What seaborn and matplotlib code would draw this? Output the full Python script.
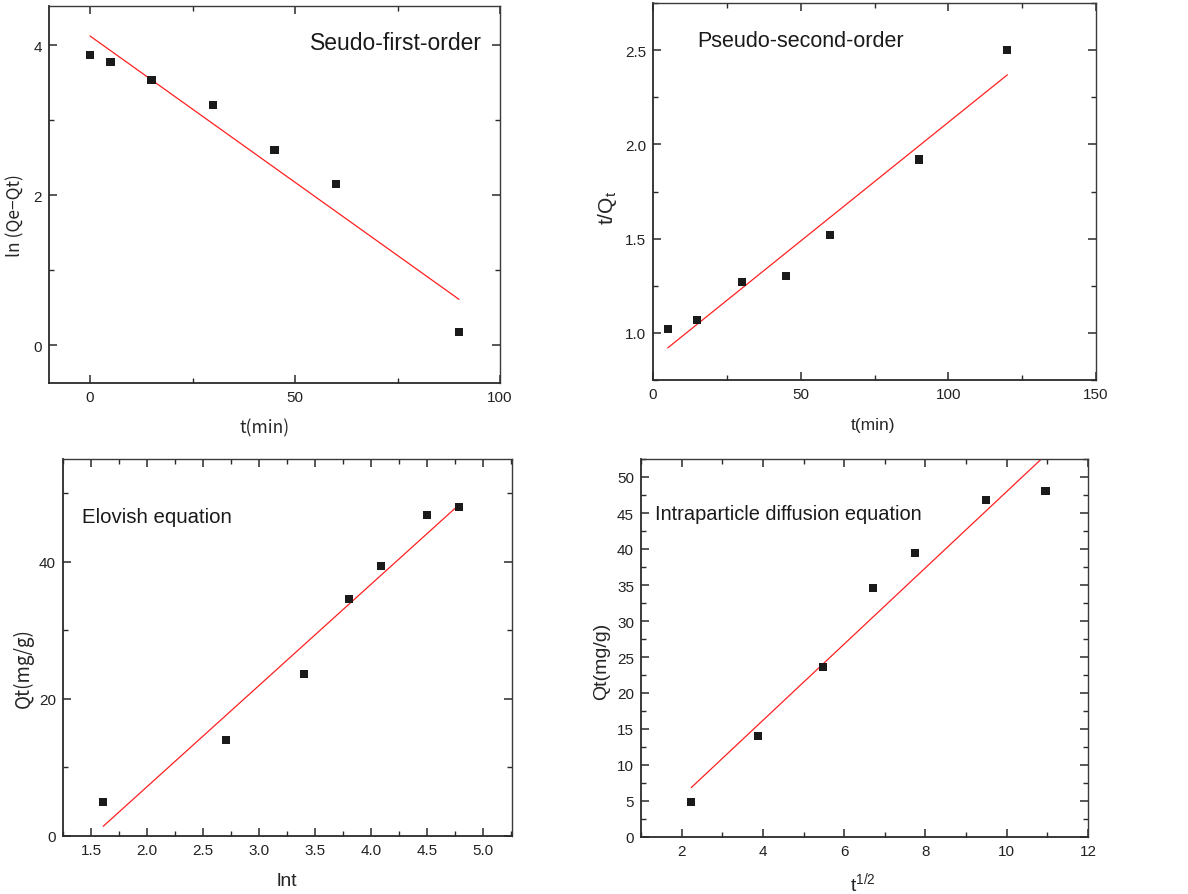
import numpy as np
import pandas as pd
import matplotlib
matplotlib.use("Agg")
import matplotlib.pyplot as plt
from matplotlib.ticker import MultipleLocator, FormatStrFormatter
import seaborn as sns

sns.set_style("ticks")
plt.rcParams['font.family'] = ['Liberation Sans', 'DejaVu Sans']

# ---- data ----
t_first = [0, 5, 15, 30, 45, 60, 90]
ln_qe_qt = [3.87, 3.77, 3.53, 3.20, 2.60, 2.15, 0.18]

t_second = [5, 15, 30, 45, 60, 90, 120]
t_over_qt = [1.02, 1.07, 1.27, 1.30, 1.52, 1.92, 2.50]

ln_t = [1.609, 2.708, 3.401, 3.807, 4.094, 4.500, 4.787]
qt_elovich = [4.9, 14.0, 23.6, 34.6, 39.4, 46.8, 48.0]

sqrt_t = [2.236, 3.873, 5.477, 6.708, 7.746, 9.487, 10.954]
qt_intra = [4.9, 14.0, 23.6, 34.6, 39.4, 46.8, 48.0]

W, H = 1188, 895
fig = plt.figure(figsize=(W / 100, H / 100), dpi=100)


def make_ax(l, r, t, b):
    return fig.add_axes([l / W, 1 - b / H, (r - l) / W, (b - t) / H])


ax1 = make_ax(49, 500, 7, 384)
ax2 = make_ax(653, 1096, 4, 381)
ax3 = make_ax(63, 512, 460, 837)
ax4 = make_ax(641, 1088, 460, 838)

scatter_kws = dict(s=34, color='#1a1a1a', edgecolors='none', alpha=1, zorder=3)
line_kws = dict(color='#ff2020', lw=0.9, zorder=2)

panels = [
    (ax1, t_first, ln_qe_qt),
    (ax2, t_second, t_over_qt),
    (ax3, ln_t, qt_elovich),
    (ax4, sqrt_t, qt_intra),
]
for ax, xs, ys in panels:
    df = pd.DataFrame({'x': xs, 'y': ys})
    sns.regplot(data=df, x='x', y='y', ax=ax, ci=None, marker='s',
                truncate=True, scatter_kws=scatter_kws, line_kws=line_kws)
    ax.set_xlabel('')
    ax.set_ylabel('')
    for side in ['left', 'bottom']:
        ax.spines[side].set_linewidth(1.3)
        ax.spines[side].set_color('#2a2a2a')
    for side in ['top', 'right']:
        ax.spines[side].set_visible(True)
        ax.spines[side].set_linewidth(1.0)
        ax.spines[side].set_color('#3a3a3a')
    ax.tick_params(which='major', direction='in', length=6, width=1.1,
                   top=True, right=True, labelsize=11, colors='#2a2a2a',
                   labelcolor='#222222', pad=5)
    ax.tick_params(which='minor', direction='in', length=3.5, width=1.0,
                   top=True, right=True, colors='#2a2a2a')

cjk = ['Noto Sans CJK SC', 'DejaVu Sans']

# Panel 1
ax1.set_xlim(-10, 100)
ax1.set_ylim(-0.5, 4.52)
ax1.xaxis.set_major_locator(MultipleLocator(50))
ax1.xaxis.set_minor_locator(MultipleLocator(25))
ax1.yaxis.set_major_locator(MultipleLocator(2))
ax1.yaxis.set_minor_locator(MultipleLocator(1))
ax1.set_xlabel('t(min)', fontsize=12.5, family=cjk, va='center')
ax1.set_ylabel('ln (Qe\u2212Qt)', fontsize=12.5, family=cjk, va='center')
ax1.xaxis.set_label_coords(0.479, -0.117)
ax1.yaxis.set_label_coords(-0.075, 0.448)
ax1.text(0.578, 0.886, 'Seudo-first-order', transform=ax1.transAxes,
         fontsize=16.5, va='baseline', ha='left', color='#1a1a1a')

# Panel 2
ax2.set_xlim(0, 150)
ax2.set_ylim(0.75, 2.75)
ax2.xaxis.set_major_locator(MultipleLocator(50))
ax2.xaxis.set_minor_locator(MultipleLocator(25))
ax2.yaxis.set_major_locator(MultipleLocator(0.5))
ax2.yaxis.set_minor_locator(MultipleLocator(0.25))
ax2.yaxis.set_major_formatter(FormatStrFormatter('%.1f'))
ax2.set_xlabel('t(min)', fontsize=12.5, va='center')
ax2.set_ylabel('t/Q$_\\mathregular{t}$', fontsize=15, va='center')
ax2.xaxis.set_label_coords(0.497, -0.117)
ax2.yaxis.set_label_coords(-0.102, 0.459)
ax2.text(0.10, 0.887, 'Pseudo-second-order', transform=ax2.transAxes,
         fontsize=15.5, va='baseline', ha='left', color='#1a1a1a')

# Panel 3
ax3.set_xlim(1.25, 5.26)
ax3.set_ylim(0, 55)
ax3.xaxis.set_major_locator(MultipleLocator(0.5))
ax3.xaxis.set_minor_locator(MultipleLocator(0.25))
ax3.yaxis.set_major_locator(MultipleLocator(20))
ax3.yaxis.set_minor_locator(MultipleLocator(10))
ax3.xaxis.set_major_formatter(FormatStrFormatter('%.1f'))
ax3.set_xlabel('lnt', fontsize=14, va='center')
ax3.set_ylabel('Qt(mg/g)', fontsize=13.5, family=cjk, va='center')
ax3.xaxis.set_label_coords(0.499, -0.117)
ax3.yaxis.set_label_coords(-0.089, 0.448)
ax3.text(0.043, 0.834, 'Elovish equation', transform=ax3.transAxes,
         fontsize=14.7, va='baseline', ha='left', color='#1a1a1a')

# Panel 4
ax4.set_xlim(1, 12)
ax4.set_ylim(0, 52.5)
ax4.xaxis.set_major_locator(MultipleLocator(2))
ax4.xaxis.set_minor_locator(MultipleLocator(1))
ax4.yaxis.set_major_locator(MultipleLocator(5))
ax4.yaxis.set_minor_locator(MultipleLocator(2.5))
ax4.set_xlabel('t$^{\\mathregular{1/2}}$', fontsize=14, va='center')
ax4.set_ylabel('Qt(mg/g)', fontsize=14, va='center')
ax4.xaxis.set_label_coords(0.497, -0.122)
ax4.yaxis.set_label_coords(-0.089, 0.468)
ax4.text(0.031, 0.841, 'Intraparticle diffusion equation', transform=ax4.transAxes,
         fontsize=14.4, va='baseline', ha='left', color='#1a1a1a')

fig.savefig('out.png', dpi=100)
